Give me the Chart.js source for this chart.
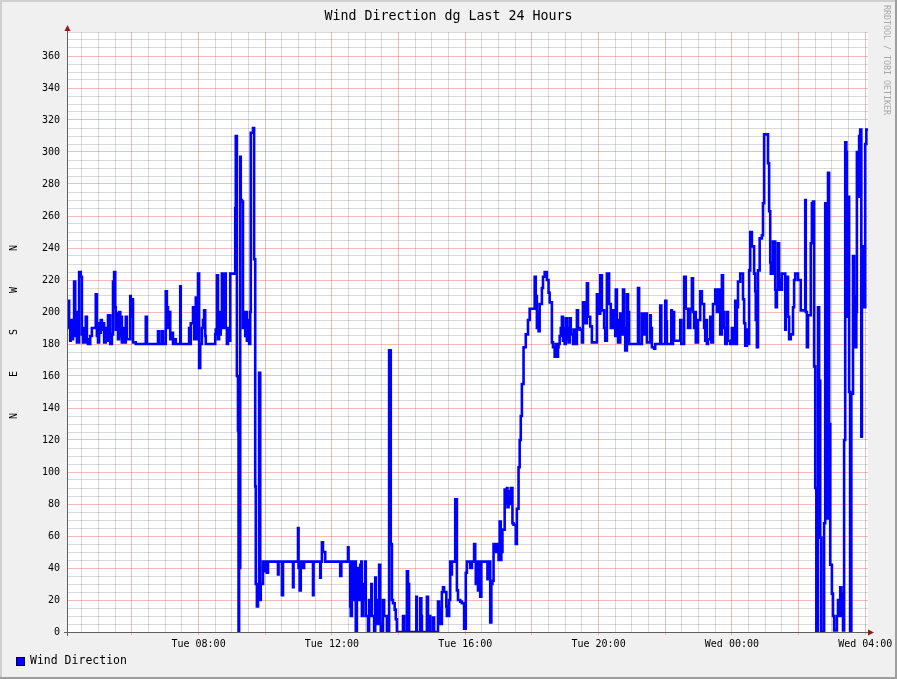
<!DOCTYPE html>
<html>
<head>
<meta charset="utf-8">
<title>Wind Direction</title>
<script src="https://cdn.jsdelivr.net/npm/chart.js@4.4.1/dist/chart.umd.min.js"></script>
<style>
  html, body { margin: 0; padding: 0; background: #f0f0f0; }
  canvas { display: block; }
</style>
</head>
<body>
<canvas id="chart" width="897" height="679"></canvas>
<script>
// minutes since Tue 00:00, the window is Tue 04:05 .. Wed 04:05
var minutes = [
  245,247,249,250,252,254,256,258,259,261,265,268,270,272,274,276,277,279,281,285,
  288,295,297,299,301,303,304,306,308,310,313,315,317,321,324,326,328,330,331,333,
  335,337,339,340,342,344,346,349,351,357,358,360,362,367,385,387,407,409,414,416,
  421,423,425,427,429,432,434,438,439,447,448,463,465,466,470,472,474,475,477,479,
  481,483,486,488,490,492,493,510,511,513,515,517,519,520,522,524,526,529,531,533,
  535,537,546,547,549,551,552,553,555,556,558,560,562,564,565,567,569,571,573,574,
  578,580,582,583,585,587,589,591,592,596,600,601,603,605,623,624,630,632,650,651,
  659,660,662,664,668,670,686,687,699,700,702,704,708,735,737,749,750,753,754,756,
  759,760,762,763,765,767,769,771,773,774,776,778,780,781,785,787,789,791,792,796,
  798,799,801,803,805,807,808,812,814,819,823,826,828,830,833,835,837,848,850,855,
  857,859,872,873,879,881,882,891,893,895,897,902,904,911,913,915,918,920,922,926,
  927,931,933,935,936,942,945,947,951,954,958,961,963,969,972,976,978,979,981,983,
  985,987,989,1000,1002,1005,1007,1009,1011,1015,1018,1020,1022,1024,1025,1027,1031,1033,1035,1036,
  1038,1040,1042,1045,1047,1051,1053,1056,1058,1060,1062,1065,1069,1073,1076,1085,1087,1089,1091,1092,
  1094,1098,1100,1103,1107,1110,1112,1116,1118,1121,1123,1125,1127,1128,1130,1132,1134,1136,1137,1139,
  1141,1143,1145,1146,1148,1150,1154,1155,1157,1161,1163,1166,1170,1172,1176,1179,1181,1185,1188,1197,
  1201,1203,1206,1210,1212,1215,1219,1222,1226,1230,1231,1233,1235,1239,1242,1244,1246,1248,1251,1253,
  1255,1271,1273,1278,1280,1284,1287,1293,1294,1296,1300,1302,1311,1313,1320,1322,1323,1331,1332,1334,
  1336,1347,1349,1354,1357,1361,1365,1368,1370,1372,1374,1375,1379,1383,1386,1390,1392,1393,1395,1397,
  1401,1403,1406,1410,1413,1415,1419,1422,1424,1426,1428,1431,1433,1437,1440,1442,1446,1447,1449,1451,
  1455,1460,1462,1464,1467,1469,1471,1473,1476,1480,1482,1483,1485,1487,1490,1494,1496,1498,1505,1507,
  1509,1510,1514,1518,1519,1521,1523,1525,1527,1530,1536,1537,1539,1541,1543,1546,1550,1552,1554,1559,
  1564,1572,1573,1575,1577,1582,1584,1586,1588,1590,1592,1595,1597,1599,1601,1606,1608,1610,1611,1613,
  1615,1617,1620,1622,1624,1629,1631,1633,1635,1637,1638,1640,1642,1644,1646,1647,1649,1651,1653,1655,
  1658,1660,1662,1664,1665,1667,1669,1671,1673,1674,1678,1680,1682,1685
];

// wind direction in degrees
var direction = [
  207,190,182,195,183,192,219,185,200,181,225,222,186,181,190,181,197,183,180,185,
  190,211,185,181,193,187,195,189,193,181,190,182,198,180,186,219,225,203,189,199,
  183,200,185,197,181,190,181,197,183,210,197,208,181,180,197,180,188,180,188,180,
  213,203,190,200,183,187,180,183,180,216,180,190,180,193,203,183,190,209,183,224,
  165,180,190,195,201,185,180,186,189,223,183,200,186,193,224,190,224,190,180,190,
  182,224,265,310,160,126,0,40,297,270,269,190,200,185,200,182,195,180,200,312,
  315,233,91,30,16,25,162,20,30,44,38,44,37,44,36,44,23,44,28,44,
  65,40,26,44,40,44,23,44,34,44,56,50,44,35,44,53,44,16,10,44,
  40,20,44,0,40,30,20,42,44,10,30,20,44,10,0,20,10,30,10,0,
  34,20,5,20,42,5,0,20,10,0,176,55,20,18,14,8,0,10,0,38,
  30,0,22,0,21,10,0,22,0,10,0,9,0,19,15,5,25,28,25,16,
  10,20,44,36,44,83,26,20,19,18,2,37,44,40,44,55,44,30,44,26,
  44,22,44,33,44,6,30,32,55,50,55,45,69,45,50,64,89,80,90,78,
  88,80,90,68,67,55,77,103,120,135,155,178,186,195,202,222,210,190,200,188,
  205,215,222,225,220,212,206,181,178,172,180,172,178,180,185,190,197,182,190,180,
  196,183,190,181,196,186,180,189,180,201,190,189,181,206,193,218,197,191,181,211,
  199,223,201,190,182,224,205,190,201,185,214,195,181,199,186,214,190,176,211,200,
  180,215,180,199,186,199,181,198,190,178,177,180,204,180,207,194,180,201,180,200,
  182,195,180,222,202,190,202,221,200,190,200,181,195,213,205,190,182,195,180,183,
  197,181,205,214,200,214,186,223,200,190,180,200,182,180,190,180,207,180,203,219,
  224,208,193,179,189,180,226,250,241,224,213,195,178,226,246,248,268,311,293,263,
  231,224,244,214,203,214,243,220,214,224,189,200,222,197,183,186,203,220,224,220,
  201,270,200,178,198,243,268,269,166,90,0,203,157,59,0,68,268,116,71,287,
  130,42,24,10,1,10,20,10,28,24,10,1,120,306,300,197,272,150,0,149,
  235,210,178,200,300,272,310,314,122,241,203,305,314,314
];

var compassLetters = ['N', 'E', 'S', 'W', 'N'];
var titleText = 'Wind Direction dg Last 24 Hours';
var legendLabel = 'Wind Direction';
var creditText = 'RRDTOOL / TOBI OETIKER';

var FONT = '"DejaVu Sans Mono", "Liberation Mono", monospace';

var points = minutes.map(function (m, i) {
    return { x: m, y: direction[i] };
});

var timeLabel = function (m) {
    var day = m < 1440 ? 'Tue' : 'Wed';
    var hh = Math.floor(m / 60) % 24;
    return day + ' ' + (hh < 10 ? '0' : '') + hh + ':00';
};

// rrdtool look: background, canvas, axes, arrows and texts
var decor = {
    id: 'decor',
    beforeDraw: function (chart) {
        var ctx = chart.ctx, a = chart.chartArea;
        var W = chart.width, H = chart.height;
        ctx.save();
        ctx.fillStyle = '#f0f0f0';
        ctx.fillRect(0, 0, W, H);
        ctx.fillStyle = '#cfcfcf';
        ctx.fillRect(0, 0, W, 2);
        ctx.fillRect(0, 0, 2, H);
        ctx.fillStyle = '#9e9e9e';
        ctx.fillRect(0, H - 2, W, 2);
        ctx.fillRect(W - 2, 0, 2, H);
        ctx.fillStyle = '#ffffff';
        ctx.fillRect(a.left, a.top, a.right - a.left, a.bottom - a.top);
        ctx.restore();
    },
    afterDraw: function (chart) {
        var ctx = chart.ctx, a = chart.chartArea;
        ctx.save();
        // axes
        ctx.strokeStyle = '#606060';
        ctx.lineWidth = 1;
        ctx.beginPath();
        ctx.moveTo(a.left - 0.5, a.top - 4);
        ctx.lineTo(a.left - 0.5, a.bottom + 4);
        ctx.moveTo(a.left - 4, a.bottom + 0.5);
        ctx.lineTo(a.right + 4, a.bottom + 0.5);
        ctx.stroke();
        // arrows
        ctx.fillStyle = '#8b1a1a';
        ctx.beginPath();
        ctx.moveTo(a.left - 0.5, a.top - 7);
        ctx.lineTo(a.left - 3.5, a.top - 1);
        ctx.lineTo(a.left + 2.5, a.top - 1);
        ctx.closePath();
        ctx.fill();
        ctx.beginPath();
        ctx.moveTo(a.right + 6, a.bottom + 0.5);
        ctx.lineTo(a.right, a.bottom - 2.5);
        ctx.lineTo(a.right, a.bottom + 3.5);
        ctx.closePath();
        ctx.fill();

        // title
        ctx.fillStyle = '#000000';
        ctx.font = '13.3px ' + FONT;
        ctx.textAlign = 'center';
        ctx.textBaseline = 'middle';
        ctx.fillText(titleText, chart.width / 2, 16.5);

        // compass letters on the left, read bottom to top
        ctx.font = '10px ' + FONT;
        var ys = [416, 374, 332, 290, 248];
        compassLetters.forEach(function (c, i) {
            ctx.save();
            ctx.translate(14, ys[i]);
            ctx.rotate(-Math.PI / 2);
            ctx.fillText(c, 0, 0);
            ctx.restore();
        });

        // credit on the right edge
        ctx.save();
        ctx.fillStyle = '#a8a8a8';
        ctx.font = '8.3px ' + FONT;
        ctx.translate(886, 5);
        ctx.rotate(Math.PI / 2);
        ctx.textAlign = 'left';
        ctx.fillText(creditText, 0, 0);
        ctx.restore();

        // legend
        ctx.fillStyle = '#0000ff';
        ctx.fillRect(16, 657, 8, 8);
        ctx.strokeStyle = '#000000';
        ctx.strokeRect(16.5, 657.5, 8, 8);
        ctx.fillStyle = '#000000';
        ctx.font = '11.5px ' + FONT;
        ctx.textAlign = 'left';
        ctx.fillText(legendLabel, 30, 661.5);
        ctx.restore();
    }
};

var minorGrid = 'rgba(120,120,120,0.28)';
var majorGrid = 'rgba(222,80,80,0.38)';

var drawChart = function (id) {
    const ctx = document.getElementById(id);
    return new Chart(ctx, {
        type: 'line',
        data: {
            datasets: [
                {
                    label: legendLabel,
                    data: points,
                    borderColor: '#0000ff',
                    borderWidth: 2.6,
                    pointRadius: 0,
                    stepped: true,
                    fill: false,
                },
            ],
        },
        options: {
            responsive: false,
            animation: false,
            devicePixelRatio: 1,
            layout: { padding: { left: 0, top: 32, right: 29, bottom: 0 } },
            plugins: {
                legend: { display: false },
                tooltip: { enabled: false },
            },
            scales: {
                x: {
                    type: 'linear',
                    min: 245,
                    max: 1685,
                    afterBuildTicks: function (scale) {
                        var t = [];
                        for (var m = 270; m <= 1680; m += 30) t.push({ value: m });
                        scale.ticks = t;
                    },
                    afterFit: function (scale) { scale.height = 47; },
                    border: { display: false },
                    grid: {
                        color: function (c) { return c.tick && c.tick.value % 120 === 0 ? majorGrid : minorGrid; },
                        tickColor: function (c) { return c.tick && c.tick.value % 120 === 0 ? majorGrid : 'rgba(0,0,0,0)'; },
                        tickLength: 3,
                    },
                    ticks: {
                        autoSkip: false,
                        maxRotation: 0,
                        minRotation: 0,
                        padding: 3,
                        color: '#000000',
                        font: { family: FONT, size: 10 },
                        callback: function (v) { return v % 240 === 0 ? timeLabel(v) : ''; },
                    },
                },
                y: {
                    min: 0,
                    max: 375,
                    afterBuildTicks: function (scale) {
                        var t = [];
                        for (var v = 0; v <= 375; v += 5) t.push({ value: v });
                        scale.ticks = t;
                    },
                    afterFit: function (scale) { scale.width = 68; },
                    border: { display: false },
                    grid: {
                        color: function (c) { return c.tick && c.tick.value % 20 === 0 ? majorGrid : minorGrid; },
                        drawTicks: false,
                    },
                    ticks: {
                        autoSkip: false,
                        padding: 8,
                        color: '#000000',
                        font: { family: FONT, size: 10 },
                        callback: function (v) { return v % 20 === 0 && v <= 360 ? String(v) : ''; },
                    },
                },
            },
        },
        plugins: [decor],
    });
};

drawChart('chart');
</script>
</body>
</html>
